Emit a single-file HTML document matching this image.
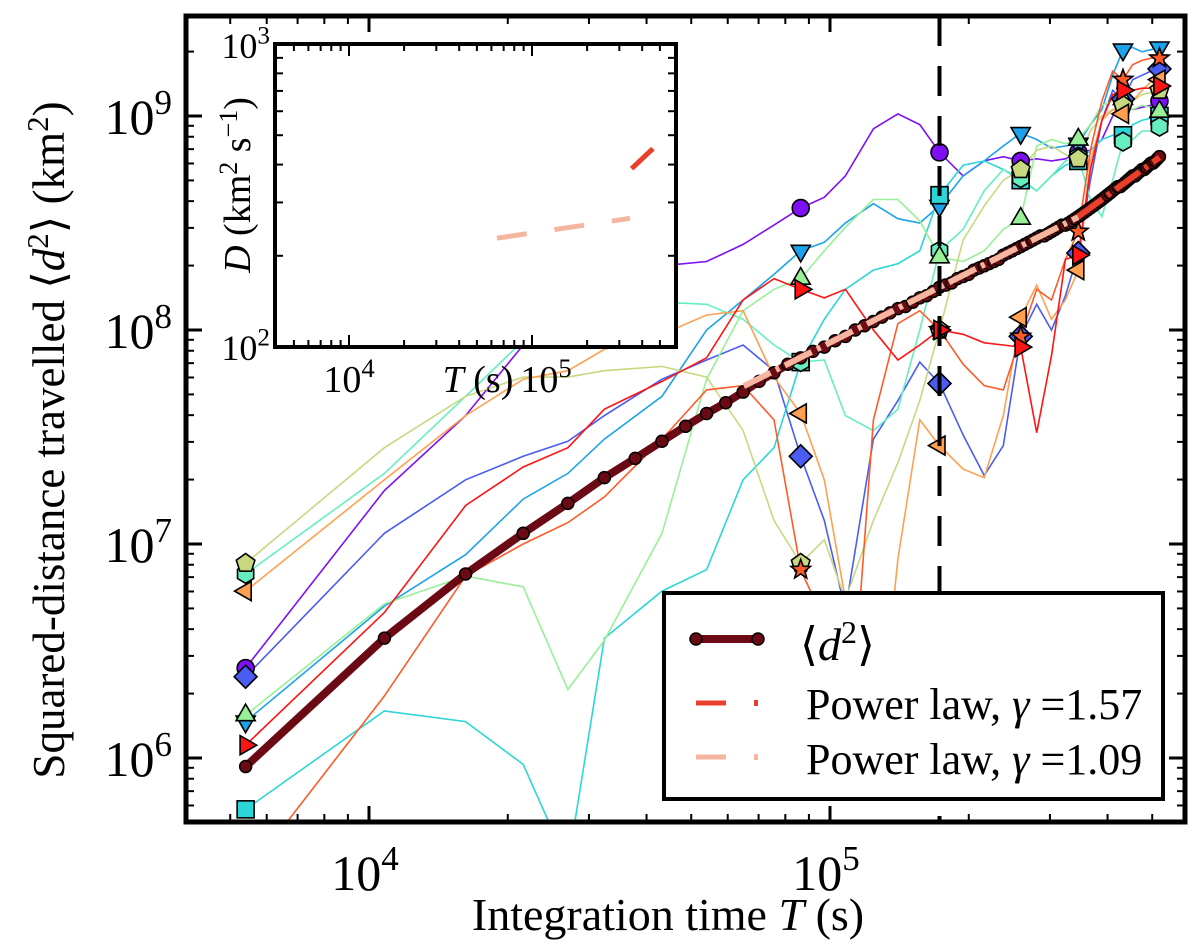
<!DOCTYPE html>
<html><head><meta charset="utf-8"><style>
html,body{margin:0;padding:0;background:#fff;}
svg{display:block;font-family:"Liberation Serif","DejaVu Serif",serif;}
</style></head><body>
<svg id="chart" width="1200" height="950" viewBox="0 0 1200 950" xmlns="http://www.w3.org/2000/svg">
<defs>
<clipPath id="plotclip"><rect x="186" y="16" width="999" height="806"/></clipPath>
<clipPath id="insetclip"><rect x="275" y="44" width="401" height="303"/></clipPath>
</defs>
<g id="lines" clip-path="url(#plotclip)"></g>
<g id="markers" clip-path="url(#plotclip)"></g>
<g id="meanlayer" clip-path="url(#plotclip)"></g>
<g id="fitlayer" clip-path="url(#plotclip)"></g>
<g id="vline"></g>
<g id="axes"></g>
<g id="inset"></g>
<g id="legend"></g>
</svg>
<script>
// ---------- data ----------
const stepSeconds = 5400;
const gridK = [1,2,3,4,5,6,8,10,12,14,16,18,20,23,26,29,32,36,40,44,48,52,56,60,64,68,72,76,80,84,88,92,96];
const markerK = [1,16,32,48,64,80,96];
const seriesNames = ['purple','blue','sky','cyan','aqua','lightgreen','yellow','orange','orangered','red'];
const seriesColors = ['#7f10f5','#4a5cf2','#1ca2ea','#2cd6d8','#66eec0','#98f098','#c8d880','#ffa050','#ff5a28','#ff1414'];
const seriesMarkers = ['circle','diamond','tri-down','square','hexagon','tri-up','pentagon','tri-left','star','tri-right'];
const purpleLog = [6.42,7.25,7.60,7.93,8.14,8.26,8.30,8.32,8.40,8.49,8.57,8.62,8.72,8.94,9.01,8.96,8.83,8.72,8.79,8.81,8.79,8.80,8.79,8.80,8.83,8.84,8.89,9.00,9.06,9.03,9.04,9.05,9.07];
const blueLog = [6.38,7.05,7.30,7.41,7.48,7.60,7.77,7.86,7.93,7.81,7.41,7.11,6.69,7.49,7.67,7.85,7.75,7.51,7.32,7.46,7.97,8.12,8.00,8.16,8.36,8.70,8.98,9.12,9.08,9.17,9.19,9.21,9.22];
const skyLog = [6.17,6.71,6.95,7.21,7.33,7.49,7.69,8.00,8.14,8.26,8.37,8.41,8.50,8.59,8.52,8.50,8.58,8.72,8.79,8.86,8.92,8.89,8.85,8.86,8.87,8.96,9.03,9.19,9.31,9.32,9.30,9.31,9.32];
const cyanLog = [5.76,6.22,6.17,5.97,5.50,6.56,6.78,6.88,7.30,7.45,7.85,8.05,8.19,8.28,8.31,8.37,8.63,8.77,8.79,8.75,8.70,8.65,8.72,8.77,8.79,8.84,8.89,8.91,8.91,8.96,8.98,8.99,9.00];
const aquaLog = [6.86,7.33,7.69,7.95,8.05,8.12,8.13,8.12,8.05,7.93,7.85,7.86,7.60,7.53,7.63,8.00,8.37,8.47,8.65,8.75,8.71,8.65,8.72,8.79,8.81,8.61,8.53,8.70,8.88,8.89,8.93,8.93,8.95];
const lightgreenLog = [6.20,6.72,6.85,6.80,6.32,6.55,7.05,7.77,8.09,8.19,8.24,8.37,8.48,8.61,8.61,8.51,8.34,8.32,8.37,8.47,8.52,8.86,8.89,8.87,8.89,8.96,9.05,9.07,9.08,9.03,9.05,9.04,9.02];
const yellowLog = [6.91,7.45,7.69,7.78,7.78,7.81,7.83,7.78,7.53,7.11,6.91,7.02,6.74,7.11,7.38,7.67,8.00,8.42,8.58,8.70,8.75,8.84,8.86,8.82,8.80,8.93,9.00,9.03,9.05,9.07,9.10,9.11,9.12];
const orangeLog = [6.78,7.30,7.60,7.77,7.81,7.91,7.98,8.07,8.09,7.78,7.61,7.30,6.74,5.80,6.93,7.58,7.46,7.35,7.31,7.60,8.06,8.21,8.05,8.14,8.28,8.79,8.98,9.03,9.01,9.07,9.12,9.16,9.17];
const orangeredLog = [5.45,6.29,6.85,7.00,7.10,7.22,7.49,7.72,7.74,7.58,6.88,6.64,5.80,7.58,8.03,8.09,8.00,7.84,7.74,7.72,7.97,8.19,8.14,8.33,8.46,8.84,9.07,9.21,9.17,9.24,9.26,9.27,9.27];
const redLog = [6.06,6.68,7.18,7.36,7.45,7.63,7.76,7.87,8.14,8.24,8.19,8.15,8.19,8.00,7.86,7.93,8.00,7.98,7.94,7.93,7.92,7.52,7.88,8.33,8.35,8.75,8.98,9.10,9.12,9.12,9.13,9.13,9.14];
const meanLog = [5.96,6.56,6.86,7.05,7.19,7.31,7.40,7.48,7.55,7.61,7.66,7.71,7.76,7.80,7.84,
7.87,7.90,7.92,7.95,7.97,8.00,8.02,8.04,8.06,8.08,8.10,8.11,8.13,8.15,8.16,8.18,8.20,8.21,8.22,8.24,8.25,8.26,8.28,8.29,8.30,8.31,8.32,8.33,8.35,8.36,8.37,8.38,8.39,8.40,8.41,8.42,8.43,8.44,8.44,8.45,8.46,8.47,8.48,8.49,8.49,
8.50,8.51,8.52,8.53,
8.54,8.55,8.56,8.57,8.58,8.59,8.60,8.61,8.62,8.63,8.64,8.65,8.66,8.67,8.67,8.68,8.69,8.70,8.71,8.72,8.72,8.73,8.74,8.75,8.75,8.76,8.77,8.78,8.78,8.79,8.80,8.81];
const fitGamma = [1.57, 1.09];
const fitAnchorT = [345600, 172800];
const fitAnchorLog = [8.53, 8.20];
const fitStartT = [345600, 65000];
const fitEndT = [518400, 345600];
const fitColors = ['#e8402a','#f6b59e'];
const insetStartT = [350000, 64400];
const insetEndT = [458000, 343000];
const vlineT = 172800;
const seriesLogs = [purpleLog,blueLog,skyLog,cyanLog,aquaLog,lightgreenLog,yellowLog,orangeLog,orangeredLog,redLog];

// ---------- scales ----------
const NS='http://www.w3.org/2000/svg';
const X=T=>369+461*(Math.log10(T)-4);
const Y=v=>116+214*(9-Math.log10(v));
const IX=T=>349+183*(Math.log10(T)-4);
const IY=D=>44+303*(3-Math.log10(D));
function el(tag,attrs,parent){const e=document.createElementNS(NS,tag);for(const k in attrs)e.setAttribute(k,attrs[k]);parent.appendChild(e);return e;}
const G=id=>document.getElementById(id);

// thin series
seriesNames.forEach((nm,si)=>{
  const pts=gridK.map((k,i)=>X(k*stepSeconds).toFixed(1)+','+Y(Math.pow(10,seriesLogs[si][i])).toFixed(1)).join(' ');
  const pl=el('polyline',{points:pts,fill:'none',stroke:seriesColors[si],'stroke-width':1.6},G('lines'));
  
  
});
function interpLog(si,k){const a=seriesLogs[si];for(let i=0;i<gridK.length-1;i++){if(k>=gridK[i]&&k<=gridK[i+1]){const t=(k-gridK[i])/(gridK[i+1]-gridK[i]);return a[i]+t*(a[i+1]-a[i]);}}return a[a.length-1];}
function marker(shape,cx,cy,color,parent){
  const s=8.5;let e;const st={fill:color,stroke:'#000','stroke-width':1.6};
  const poly=(pts)=>el('polygon',Object.assign({points:pts.map(p=>(cx+p[0]).toFixed(1)+','+(cy+p[1]).toFixed(1)).join(' ')},st),parent);
  const reg=(n,r,rot)=>{const p=[];for(let i=0;i<n;i++){const a=rot+i*2*Math.PI/n;p.push([r*Math.cos(a),r*Math.sin(a)]);}return p;};
  if(shape==='circle')e=el('circle',Object.assign({cx,cy,r:s},st),parent);
  else if(shape==='square')e=el('rect',Object.assign({x:cx-s,y:cy-s,width:2*s,height:2*s},st),parent);
  else if(shape==='diamond')e=poly([[0,-s*1.35],[s*1.35,0],[0,s*1.35],[-s*1.35,0]]);
  else if(shape==='tri-down')e=poly(reg(3,s*1.3,Math.PI/2));
  else if(shape==='tri-up')e=poly(reg(3,s*1.3,-Math.PI/2));
  else if(shape==='tri-left')e=poly(reg(3,s*1.3,Math.PI));
  else if(shape==='tri-right')e=poly(reg(3,s*1.3,0));
  else if(shape==='hexagon')e=poly(reg(6,s*1.1,Math.PI/2));
  else if(shape==='pentagon')e=poly(reg(5,s*1.15,-Math.PI/2));
  else if(shape==='star'){const p=[];for(let i=0;i<10;i++){const r=i%2?s*0.5:s*1.2;const a=-Math.PI/2+i*Math.PI/5;p.push([r*Math.cos(a),r*Math.sin(a)]);}e=poly(p);}
  return e;
}
seriesNames.forEach((nm,si)=>{
  markerK.forEach(k=>{
    const m=marker(seriesMarkers[si],X(k*stepSeconds),Y(Math.pow(10,interpLog(si,k))),seriesColors[si],G('markers'));
    
    
  });
});

// mean
const meanPts=meanLog.map((l,i)=>[X((i+1)*stepSeconds),Y(Math.pow(10,l))]);
const ml=el('polyline',{points:meanPts.map(p=>p[0].toFixed(1)+','+p[1].toFixed(1)).join(' '),fill:'none',stroke:'#6b0a14','stroke-width':8,'stroke-linejoin':'round'},G('meanlayer'));


meanPts.forEach(p=>{
  const c=el('circle',{cx:p[0],cy:p[1],r:6,fill:'#6b0a14',stroke:'#000','stroke-width':1.5},G('meanlayer'));
  
  
});

// fits
function fitLog(fi,T){return fitAnchorLog[fi]+fitGamma[fi]*(Math.log10(T)-Math.log10(fitAnchorT[fi]));}
[1,0].forEach(fi=>{
  const pts=[];for(let j=0;j<=40;j++){const T=fitStartT[fi]*Math.pow(fitEndT[fi]/fitStartT[fi],j/40);pts.push(X(T).toFixed(1)+','+Y(Math.pow(10,fitLog(fi,T))).toFixed(1));}
  const f=el('polyline',{points:pts.join(' '),fill:'none',stroke:fitColors[fi],'stroke-width':6,'stroke-dasharray':'30 6 4 6'},G('fitlayer'));
  
  
});

// vertical dashed line
const vl=el('line',{x1:X(vlineT),x2:X(vlineT),y1:16,y2:822,stroke:'#000','stroke-width':4,'stroke-dasharray':'30 20'},G('vline'));



// axes
const ax=G('axes');
const fr=el('rect',{x:186,y:16,width:999,height:806,fill:'none',stroke:'#000','stroke-width':5},ax);


function tick(x1,y1,x2,y2,w,p){el('line',{x1,y1,x2,y2,stroke:'#000','stroke-width':w},p);}
const xMajor=[1e4,1e5], xExp=['4','5'];
for(let d=3;d<=5;d++)for(let m=1;m<=9;m++){const T=m*Math.pow(10,d);if(T<4100||T>585000)continue;const x=X(T);const L=m===1?16:8;tick(x,822,x,822-L,m===1?3:2,ax);tick(x,16,x,16+L,m===1?3:2,ax);}
for(let d=5;d<=9;d++)for(let m=1;m<=9;m++){const v=m*Math.pow(10,d);if(v<5e5||v>2.9e9)continue;const y=Y(v);const L=m===1?16:8;tick(186,y,186+L,y,m===1?3:2,ax);tick(1185,y,1185-L,y,m===1?3:2,ax);}
function powLabel(x,y,exp,size,anchor,parent,name){
  const t=el('text',{x,y,'font-size':size,'text-anchor':anchor,fill:'#000'},parent);
  t.appendChild(document.createTextNode('10'));
  const s=el('tspan',{dy:-size*0.4,'font-size':size*0.7},t);s.textContent=exp;
  
  
}
xMajor.forEach((T,i)=>powLabel(X(T)-4,890,xExp[i],50,'middle',ax,'x-tick-label'));
const yMajor=[1e6,1e7,1e8,1e9], yExp=['6','7','8','9'];
yMajor.forEach((v,i)=>powLabel(172,Y(v)+18,yExp[i],50,'end',ax,'y-tick-label'));
const xt=el('text',{x:668,y:930,'font-size':46,'text-anchor':'middle'},ax);
xt.innerHTML='Integration time <tspan font-style="italic">T</tspan> (s)';


const yt=el('text',{x:0,y:0,'font-size':45,'text-anchor':'middle',transform:'translate(64,440) rotate(-90)'},ax);
yt.innerHTML='Squared-distance travelled ⟨<tspan font-style="italic">d</tspan><tspan dy="-16" font-size="31">2</tspan><tspan dy="16">⟩ (km</tspan><tspan dy="-16" font-size="31">2</tspan><tspan dy="16">)</tspan>';



// inset
const ins=G('inset');
el('rect',{x:275,y:44,width:401,height:303,fill:'#fff'},ins);
const ig=el('g',{'clip-path':'url(#insetclip)'},ins);
[1,0].forEach(fi=>{
  const pts=[];for(let j=0;j<=20;j++){const T=insetStartT[fi]*Math.pow(insetEndT[fi]/insetStartT[fi],j/20);const D=fitGamma[fi]*Math.pow(10,fitLog(fi,T))/(4*T);pts.push(IX(T).toFixed(1)+','+IY(D).toFixed(1));}
  const f=el('polyline',{points:pts.join(' '),fill:'none',stroke:fitColors[fi],'stroke-width':5,'stroke-dasharray':fi?'30 28':'none'},ig);
  
  
});
const ifr=el('rect',{x:275,y:44,width:401,height:303,fill:'none',stroke:'#000','stroke-width':4},ins);


for(let d=3;d<=5;d++)for(let m=1;m<=9;m++){const T=m*Math.pow(10,d);const x=IX(T);if(x<277||x>674)continue;const L=m===1?12:7;tick(x,347,x,347-L,2,ins);tick(x,44,x,44+L,2,ins);}
for(let m=2;m<=9;m++){const y=IY(m*100);tick(275,y,283,y,2,ins);tick(676,y,668,y,2,ins);}
powLabel(IX(1e4),392,'4',38,'middle',ins,'inset-x-tick-label');
powLabel(IX(1e5)+14,392,'5',38,'middle',ins,'inset-x-tick-label');
powLabel(270,58,'3',36,'end',ins,'inset-y-tick-label');
powLabel(270,360,'2',36,'end',ins,'inset-y-tick-label');
const ixt=el('text',{x:478,y:392,'font-size':38,'text-anchor':'middle'},ins);
ixt.innerHTML='<tspan font-style="italic">T</tspan> (s)';


const iyt=el('text',{x:0,y:0,'font-size':38,'text-anchor':'middle',transform:'translate(250,185) rotate(-90)'},ins);
iyt.innerHTML='<tspan font-style="italic">D</tspan> (km<tspan dy="-13" font-size="26">2</tspan><tspan dy="13"> s</tspan><tspan dy="-13" font-size="26">−1</tspan><tspan dy="13">)</tspan>';



// legend
const lg=G('legend');
const lb=el('rect',{x:664,y:593,width:499,height:206,fill:'#fff',stroke:'#000','stroke-width':4},lg);


el('line',{x1:696,y1:639,x2:758,y2:639,stroke:'#6b0a14','stroke-width':8},lg);
el('circle',{cx:696,cy:639,r:6,fill:'#6b0a14',stroke:'#000','stroke-width':1.5},lg);
el('circle',{cx:758,cy:639,r:6,fill:'#6b0a14',stroke:'#000','stroke-width':1.5},lg);
el('line',{x1:696,y1:703,x2:726,y2:703,stroke:fitColors[0],'stroke-width':5},lg);
el('rect',{x:754,y:700,width:4,height:6,fill:fitColors[0]},lg);
el('line',{x1:696,y1:757,x2:726,y2:757,stroke:fitColors[1],'stroke-width':5},lg);
el('rect',{x:754,y:754,width:4,height:6,fill:fitColors[1]},lg);
const t1=el('text',{x:800,y:660,'font-size':46},lg);
t1.innerHTML='⟨<tspan font-style="italic">d</tspan><tspan dy="-17" font-size="32">2</tspan><tspan dy="17">⟩</tspan>';


const t2=el('text',{x:806,y:719,'font-size':44},lg);
t2.innerHTML='Power law, <tspan font-style="italic">γ</tspan> =1.57';


const t3=el('text',{x:806,y:774,'font-size':44},lg);
t3.innerHTML='Power law, <tspan font-style="italic">γ</tspan> =1.09';


</script>
</body></html>
